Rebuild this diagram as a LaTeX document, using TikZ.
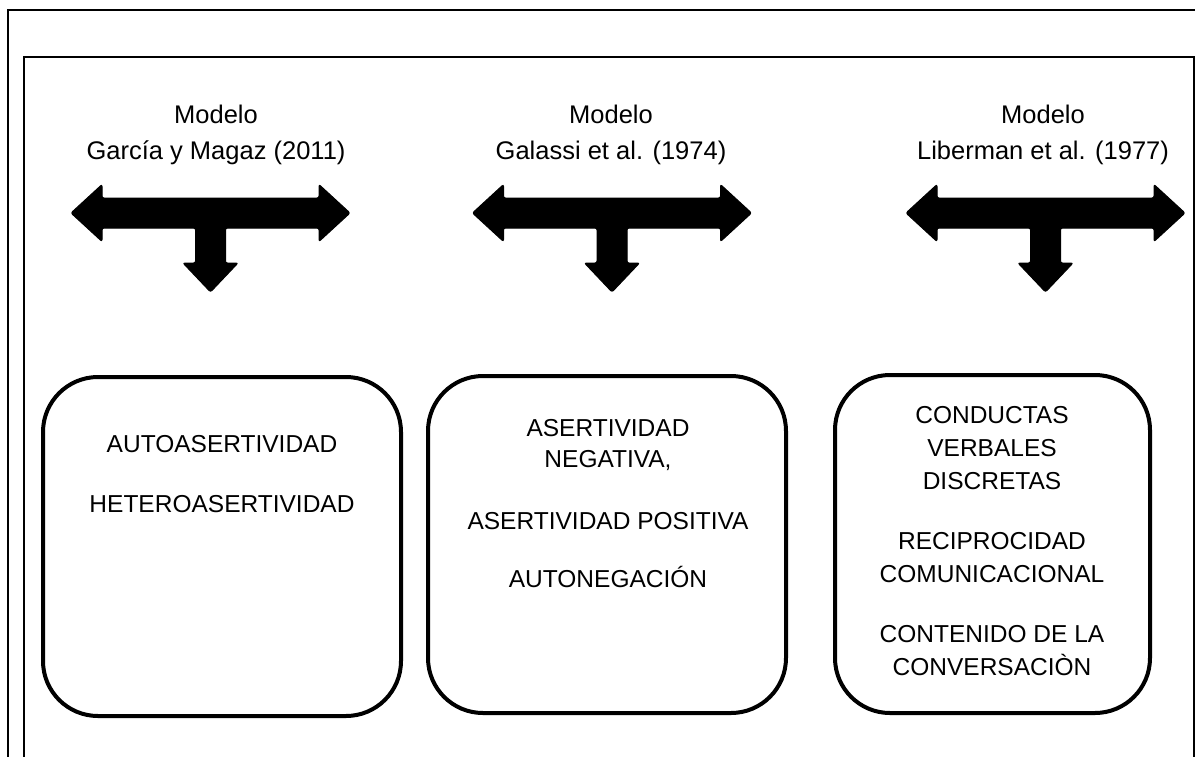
\documentclass[tikz,border=0pt]{standalone}
\usepackage{fontspec}
\setmainfont{Liberation Sans}
\begin{document}
\begin{tikzpicture}[x=1pt,y=-1pt,
  frame/.style={draw=black,line width=2pt},
  box/.style={draw=black,line width=4pt,rounded corners=55pt,inner sep=0pt,fill=none},
  txt/.style={anchor=base,inner sep=0pt,font=\fontsize{24.5}{30}\selectfont},
  head/.style={anchor=base,inner sep=0pt,font=\fontsize{25.5}{30}\selectfont},
  bigarrow/.style={fill=black,draw=black,line width=1pt,rounded corners=2pt}]
\useasboundingbox (0,0) rectangle (1203,756);
\clip (0,0) rectangle (1203,756);
\fill[white] (0,0) rectangle (1203,756);
\draw[frame] (8,800) -- (8,10) -- (1195,10);
\draw[frame] (24,800) -- (24,57) -- (1194,57) -- (1194,800);
% arrows
\foreach \cx/\nm in {210.5/a1,612/a2,1045.5/a3}{
  \fill[bigarrow] (\cx-139.5,213) -- (\cx-108.5,184.5) -- (\cx-108.5,198) -- (\cx+108.5,198)
    -- (\cx+108.5,184.5) -- (\cx+139.5,213) -- (\cx+108.5,241.5) -- (\cx+108.5,228)
    -- (\cx+15,228) -- (\cx+15,263) -- (\cx+27.5,263) -- (\cx,292) -- (\cx-27.5,263)
    -- (\cx-15,263) -- (\cx-15,228) -- (\cx-108.5,228) -- (\cx-108.5,241.5) -- cycle;
  \coordinate (\nm) at (\cx,213);
}
% headings
\node[head] (h1a) at (216,123) {Modelo};
\node[head] (h1b) at (216,159) {García y Magaz (2011)};
\node[head] (h2a) at (611,123) {Modelo};
\node[head] (h2b) at (611,159) {Galassi et al. (1974)};
\node[head] (h3a) at (1043,123) {Modelo};
\node[head] (h3b) at (1043,159) {Liberman et al. (1977)};
% boxes
\node[box,minimum width=358pt,minimum height=339pt] (b1) at (222,546.5) {};
\node[box,minimum width=358pt,minimum height=337pt] (b2) at (607,544.5) {};
\node[box,minimum width=315pt,minimum height=338pt] (b3) at (992.5,544) {};
% box 1 text
\node[txt] (t11) at (222,452) {AUTOASERTIVIDAD};
\node[txt] (t12) at (222,512) {HETEROASERTIVIDAD};
% box 2 text
\node[txt] (t21) at (608,436) {ASERTIVIDAD};
\node[txt] (t22) at (608,467) {NEGATIVA,};
\node[txt] (t23) at (608,529) {ASERTIVIDAD POSITIVA};
\node[txt] (t24) at (608,587) {AUTONEGACIÓN};
% box 3 text
\node[txt] (t31) at (992,423) {CONDUCTAS};
\node[txt] (t32) at (992,456) {VERBALES};
\node[txt] (t33) at (992,489) {DISCRETAS};
\node[txt] (t34) at (992,549) {RECIPROCIDAD};
\node[txt] (t35) at (992,582) {COMUNICACIONAL};
\node[txt] (t36) at (992,642) {CONTENIDO DE LA};
\node[txt] (t37) at (992,675) {CONVERSACIÒN};
\end{tikzpicture}
\end{document}
